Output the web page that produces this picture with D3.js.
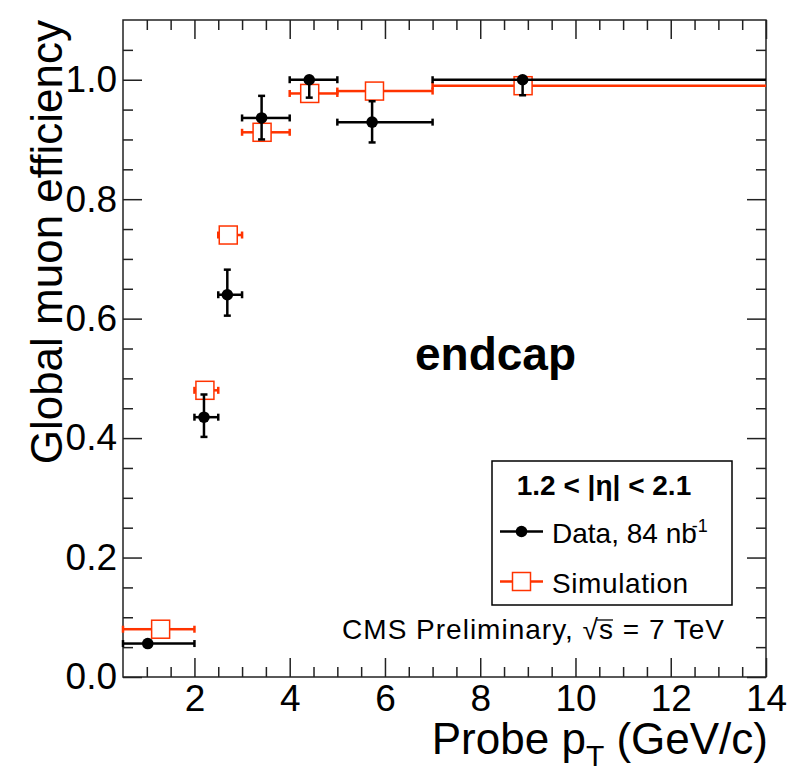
<!DOCTYPE html>
<html>
<head>
<meta charset="utf-8">
<script src="https://cdn.jsdelivr.net/npm/d3@7"></script>
<style>
	body { margin: 0; background: #fff; }
	text { font-family: "Liberation Sans", Arial, Helvetica, sans-serif; fill: #000; }
</style>
</head>
<body>
<div id="chart"></div>
<script>
'use strict';

// pT bins (GeV/c)
var binLo = [0.5, 2.0, 2.5, 3.0, 4.0, 5.0, 7.0];
var binHi = [2.0, 2.5, 3.0, 4.0, 5.0, 7.0, 14.0];

// data points
var dataPt = [1.02, 2.20, 2.69, 3.41, 4.41, 5.73, 8.89];
var dataEff = [0.056, 0.435, 0.640, 0.936, 1.000, 0.929, 1.000];
var dataErrUp = [0.004, 0.038, 0.042, 0.037, 0.000, 0.035, 0.000];
var dataErrDn = [0.004, 0.033, 0.035, 0.036, 0.030, 0.034, 0.026];

// simulation
var simPt = [1.29, 2.22, 2.71, 3.42, 4.42, 5.78, 8.90];
var simEff = [0.080, 0.480, 0.740, 0.912, 0.977, 0.981, 0.990];
var simErr = [0.003, 0.003, 0.003, 0.003, 0.002, 0.002, 0.001];

var xMajor = [2, 4, 6, 8, 10, 12, 14];
var yMajor = [0.0, 0.2, 0.4, 0.6, 0.8, 1.0];

var W = 793, H = 773;
var frameL = 123, frameR = 766, frameT = 20, frameB = 677;
var red = '#ff3300';

var svg = d3.select('#chart').append('svg')
	.attr('width', W)
	.attr('height', H);

var x = d3.scaleLinear().domain([0.5, 14]).range([frameL, frameR]);
var y = d3.scaleLinear().domain([0, 1.1]).range([frameB, frameT]);

var xMinor = d3.range(1, 28).map(function(i){ return 0.5 * i + 0.5; }).filter(function(v){ return xMajor.indexOf(v) < 0; });
var yMinor = d3.range(1, 22).map(function(i){ return +(0.05 * i).toFixed(2); }).filter(function(v){ return Math.abs(v * 5 - Math.round(v * 5)) > 1e-6; });

function styleAxis(g) {
	g.select('.domain').remove();
	g.selectAll('line').attr('stroke', '#222').attr('stroke-width', 1.5);
}

// bottom axis
svg.append('g').attr('transform', 'translate(0,' + frameB + ')')
	.call(d3.axisBottom(x).tickValues(xMinor).tickSize(-10).tickFormat(''))
	.call(styleAxis);
var xAx = svg.append('g').attr('transform', 'translate(0,' + frameB + ')')
	.call(d3.axisBottom(x).tickValues(xMajor).tickSize(-19).tickPadding(8).tickFormat(d3.format('d')))
	.call(styleAxis);
xAx.selectAll('text').style('font-size', '37px');

// top axis
svg.append('g').attr('transform', 'translate(0,' + frameT + ')')
	.call(d3.axisTop(x).tickValues(xMinor).tickSize(-10).tickFormat(''))
	.call(styleAxis);
svg.append('g').attr('transform', 'translate(0,' + frameT + ')')
	.call(d3.axisTop(x).tickValues(xMajor).tickSize(-19).tickFormat(''))
	.call(styleAxis);

// left axis
svg.append('g').attr('transform', 'translate(' + frameL + ',0)')
	.call(d3.axisLeft(y).tickValues(yMinor).tickSize(-10).tickFormat(''))
	.call(styleAxis);
var yAx = svg.append('g').attr('transform', 'translate(' + frameL + ',0)')
	.call(d3.axisLeft(y).tickValues(yMajor).tickSize(-19).tickPadding(6).tickFormat(d3.format('.1f')))
	.call(styleAxis);
yAx.selectAll('text').style('font-size', '37px');

// right axis
svg.append('g').attr('transform', 'translate(' + frameR + ',0)')
	.call(d3.axisRight(y).tickValues(yMinor).tickSize(-10).tickFormat(''))
	.call(styleAxis);
svg.append('g').attr('transform', 'translate(' + frameR + ',0)')
	.call(d3.axisRight(y).tickValues(yMajor).tickSize(-19).tickFormat(''))
	.call(styleAxis);

// frame
svg.append('rect')
	.attr('x', frameL).attr('y', frameT)
	.attr('width', frameR - frameL).attr('height', frameB - frameT)
	.attr('fill', 'none').attr('stroke', '#222').attr('stroke-width', 1.5);

// axis titles
var xTitle = svg.append('text')
	.attr('x', 768).attr('y', 754)
	.attr('text-anchor', 'end')
	.style('font-size', '44px');
xTitle.append('tspan').text('Probe p');
xTitle.append('tspan').attr('dy', 12).style('font-size', '30px').text('T');
xTitle.append('tspan').attr('dy', -12).text(' (GeV/c)');

svg.append('text')
	.attr('transform', 'translate(62,20) rotate(-90)')
	.attr('text-anchor', 'end')
	.style('font-size', '44px')
	.text('Global muon efficiency');

// error bar helper, gap = half size of marker left open
function errorBars(g, px, py, lo, hi, yUp, yDn, color, gap, sw) {
	var cx = x(px), cy = y(py);
	var x1 = x(lo), x2 = x(hi), y1 = y(yUp), y2 = y(yDn);
	var segs = [];
	if (cx - gap > x1) segs.push([x1, cy, cx - gap, cy]);
	if (x2 > cx + gap) segs.push([cx + gap, cy, x2, cy]);
	if (cy - gap > y1) segs.push([cx, y1, cx, cy - gap]);
	if (y2 > cy + gap) segs.push([cx, cy + gap, cx, y2]);
	// caps
	segs.push([x1, cy - 3.5, x1, cy + 3.5]);
	if (x2 < frameR - 1) segs.push([x2, cy - 3.5, x2, cy + 3.5]);
	if (cy - y1 > gap) segs.push([cx - 3.5, y1, cx + 3.5, y1]);
	if (y2 - cy > gap) segs.push([cx - 3.5, y2, cx + 3.5, y2]);
	segs.forEach(function(s){
		g.append('line')
			.attr('x1', s[0]).attr('y1', s[1]).attr('x2', s[2]).attr('y2', s[3])
			.attr('stroke', color).attr('stroke-width', sw);
	});
}

// simulation
var simG = svg.append('g');
simPt.forEach(function(p, i){
	errorBars(simG, p, simEff[i], binLo[i], binHi[i], simEff[i] + simErr[i], simEff[i] - simErr[i], red, 9, 2.5);
});
simG.selectAll('rect').data(simPt).enter().append('rect')
	.attr('x', function(d){ return x(d) - 9; })
	.attr('y', function(d, i){ return y(simEff[i]) - 9; })
	.attr('width', 18).attr('height', 18)
	.attr('fill', 'none').attr('stroke', red).attr('stroke-width', 1.5);

// data
var dataG = svg.append('g');
dataPt.forEach(function(p, i){
	errorBars(dataG, p, dataEff[i], binLo[i], binHi[i], dataEff[i] + dataErrUp[i], dataEff[i] - dataErrDn[i], '#000', 0, 2.5);
});
dataG.selectAll('circle').data(dataPt).enter().append('circle')
	.attr('cx', function(d){ return x(d); })
	.attr('cy', function(d, i){ return y(dataEff[i]); })
	.attr('r', 5.8)
	.attr('fill', '#000');

// endcap label
svg.append('text')
	.attr('x', 415).attr('y', 370)
	.style('font-size', '46px').style('font-weight', 'bold')
	.text('endcap');

// legend
var leg = svg.append('g');
leg.append('rect')
	.attr('x', 492).attr('y', 461).attr('width', 240).attr('height', 144)
	.attr('fill', '#fff').attr('stroke', '#000').attr('stroke-width', 1.5);
leg.append('text')
	.attr('x', 604).attr('y', 495)
	.attr('text-anchor', 'middle')
	.style('font-size', '28px').style('font-weight', 'bold')
	.text('1.2 < |η| < 2.1');

leg.append('line').attr('x1', 500).attr('x2', 543).attr('y1', 531.5).attr('y2', 531.5)
	.attr('stroke', '#000').attr('stroke-width', 2.5);
leg.append('circle').attr('cx', 521.5).attr('cy', 531.5).attr('r', 5.8).attr('fill', '#000');
var dataTxt = leg.append('text')
	.attr('x', 552).attr('y', 543)
	.style('font-size', '28px');
dataTxt.append('tspan').text('Data, 84 nb');
dataTxt.append('tspan').attr('dx', -5).attr('dy', -11).style('font-size', '18px').text('-1');

leg.append('line').attr('x1', 500).attr('x2', 512.5).attr('y1', 581.5).attr('y2', 581.5)
	.attr('stroke', red).attr('stroke-width', 2.5);
leg.append('line').attr('x1', 530.5).attr('x2', 543).attr('y1', 581.5).attr('y2', 581.5)
	.attr('stroke', red).attr('stroke-width', 2.5);
leg.append('rect').attr('x', 512.5).attr('y', 572.5).attr('width', 18).attr('height', 18)
	.attr('fill', 'none').attr('stroke', red).attr('stroke-width', 1.5);
leg.append('text')
	.attr('x', 552).attr('y', 593)
	.style('font-size', '28px')
	.style('letter-spacing', '0.6px')
	.text('Simulation');

// CMS label with sqrt(s) overline
var cms = svg.append('text')
	.attr('x', 725).attr('y', 639)
	.attr('text-anchor', 'end')
	.style('font-size', '28px')
	.style('letter-spacing', '1px')
	.text('CMS Preliminary, √s = 7 TeV');
var sIdx = 'CMS Preliminary, √'.length;
var ext = cms.node().getExtentOfChar(sIdx);
var rootExt = cms.node().getExtentOfChar(sIdx - 1);
svg.append('line')
	.attr('x1', rootExt.x + rootExt.width - 2).attr('x2', ext.x + ext.width - 1)
	.attr('y1', ext.y + 6).attr('y2', ext.y + 6)
	.attr('stroke', '#000').attr('stroke-width', 1.3);
</script>
</body>
</html>
